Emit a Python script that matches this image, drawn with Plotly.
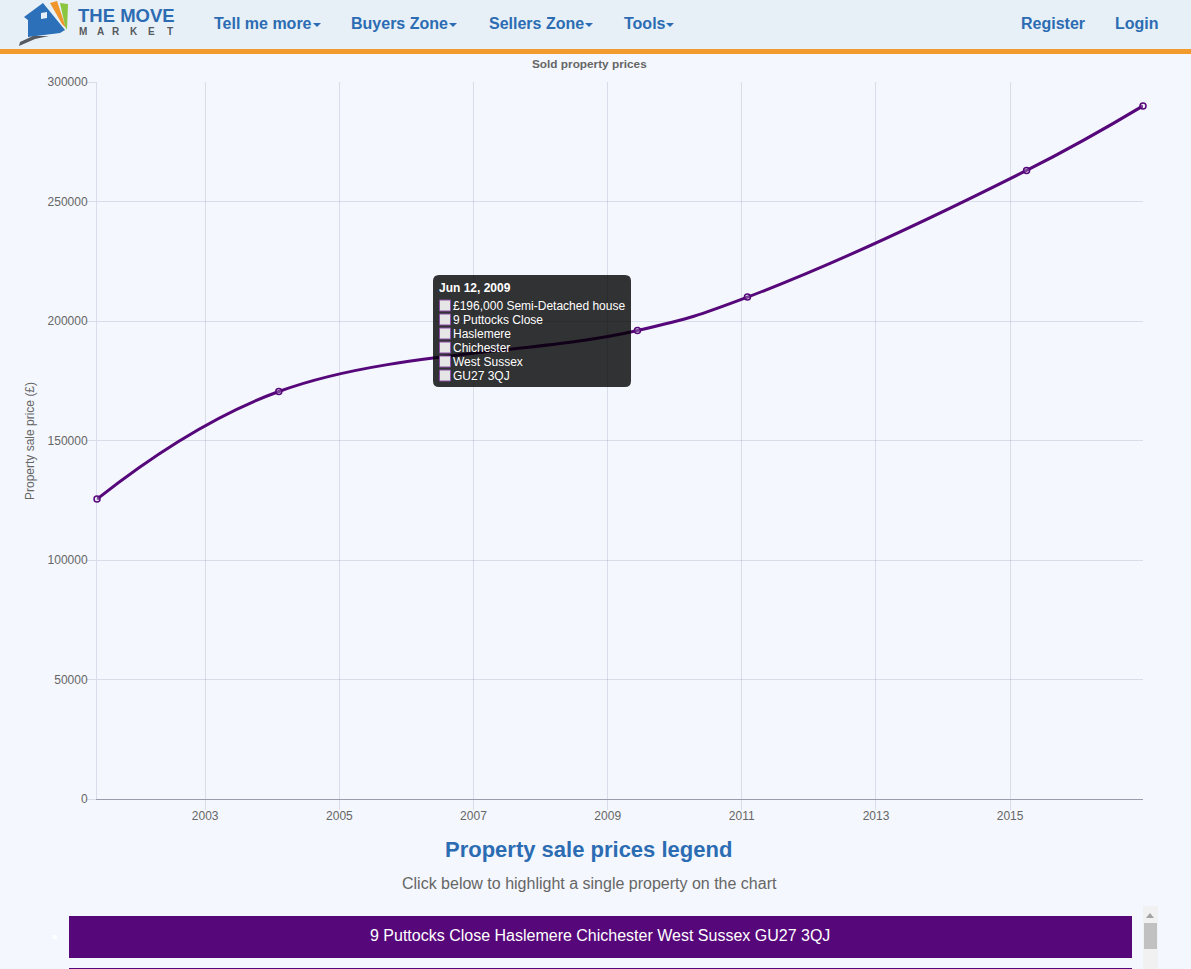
import plotly.graph_objects as go

sale_dates = ["2001-05-22", "2004-02-06", "2009-06-12", "2011-02-01", "2015-04-01", "2016-12-25"]
sale_prices = [125500, 170500, 196000, 210000, 263000, 290000]
chart_title = "Sold property prices"
y_title = "Property sale price (£)"
nav_left = ["Tell me more", "Buyers Zone", "Sellers Zone", "Tools"]
nav_right = ["Register", "Login"]
logo_word = "THE MOVE"
logo_letters = ["M", "A", "R", "K", "E", "T"]
tooltip_title = "Jun 12, 2009"
tooltip_rows = ["£196,000 Semi-Detached house", "9 Puttocks Close", "Haslemere",
                "Chichester", "West Sussex", "GU27 3QJ"]
legend_title = "Property sale prices legend"
legend_sub = "Click below to highlight a single property on the chart"
legend_item = "9 Puttocks Close Haslemere Chichester West Sussex GU27 3QJ"

W, H = 1191, 969
L, R, T, B = 97, 1143, 82, 799
PURPLE = "#56077a"
BLUE = "#2b6cb3"
GREY = "#666666"
BG = "#f4f7fd"
FONT = "Liberation Sans, Arial, sans-serif"


def fx(p):
    return (p - L) / (R - L)


def fy(p):
    return (B - p) / (B - T)


shapes = []
annotations = []


def rect(x0, y0, x1, y1, fill, line=None, width=0, layer="above"):
    shapes.append(dict(type="rect", xref="paper", yref="paper", x0=fx(x0), x1=fx(x1),
                       y0=fy(y1), y1=fy(y0), fillcolor=fill, layer=layer,
                       line=dict(color=line or fill, width=width)))


def poly(points, fill, layer="above"):
    d = "M " + " L ".join(f"{fx(a):.5f} {fy(b):.5f}" for a, b in points) + " Z"
    shapes.append(dict(type="path", xref="paper", yref="paper", path=d, fillcolor=fill,
                       layer=layer, line=dict(width=0)))


def text(x, y, s, size, color, bold=False, anchor="left", angle=0):
    # annotations carry about 2px of inner padding on the anchored side
    xp = x - 2 if anchor == "left" else x
    annotations.append(dict(xref="paper", yref="paper", x=fx(xp), y=fy(y), text=f"<b>{s}</b>" if bold else s,
                            showarrow=False, xanchor=anchor, yanchor="middle", textangle=angle,
                            font=dict(family=FONT, size=size, color=color)))


# header
rect(0, 0, W, 49, "#e8f0f7")
rect(0, 49, W, 54, "#f39a2d")

# logo
poly([(50, 3), (57, 1), (66, 28), (62, 24)], "#f0952c")
poly([(60, 3), (68, 4), (67, 30), (65, 26)], "#8cc63f")
poly([(24, 17), (43, 3), (65, 30), (60, 33), (28, 37), (28, 20)], "#2b70b8")
poly([(41, 13), (47, 12), (47, 18), (41, 19)], "#e8f0f7")
poly([(19, 46), (20, 42), (33, 36), (49, 36), (35, 39)], "#555a60")
text(77.5, 15, logo_word, 18.5, BLUE, bold=True)
for letter, x in zip(logo_letters, [83.3, 100, 116, 134, 151.7, 170]):
    text(x, 31, letter, 10, "#555a60", bold=True, anchor="center")

# navigation
for label, x, caret in zip(nav_left, [214, 351, 489, 624], [317, 453, 589, 670]):
    text(x, 23.5, label, 16, BLUE, bold=True)
    poly([(caret - 4, 23), (caret + 4, 23), (caret, 27)], BLUE)
for label, x in zip(nav_right, [1021, 1115]):
    text(x, 23.5, label, 16, BLUE, bold=True)

# chart text
text(589.5, 64.5, chart_title, 11.8, GREY, bold=True, anchor="center")
text(30, 441, y_title, 12, GREY, anchor="center", angle=-90)

# tooltip
x0, y0, x1, y1, r = 433, 275, 631, 387, 6
d = (f"M {fx(x0 + r)} {fy(y0)} L {fx(x1 - r)} {fy(y0)} Q {fx(x1)} {fy(y0)} {fx(x1)} {fy(y0 + r)} "
     f"L {fx(x1)} {fy(y1 - r)} Q {fx(x1)} {fy(y1)} {fx(x1 - r)} {fy(y1)} "
     f"L {fx(x0 + r)} {fy(y1)} Q {fx(x0)} {fy(y1)} {fx(x0)} {fy(y1 - r)} "
     f"L {fx(x0)} {fy(y0 + r)} Q {fx(x0)} {fy(y0)} {fx(x0 + r)} {fy(y0)} Z")
shapes.append(dict(type="path", xref="paper", yref="paper", path=d, fillcolor="rgba(0,0,0,0.8)",
                   line=dict(width=0), layer="above"))
text(439, 288, tooltip_title, 12, "#ffffff", bold=True)
for i, row in enumerate(tooltip_rows):
    yy = 305.5 + 14 * i
    rect(439.5, yy - 5.5, 450.5, yy + 5.5, "#e6e6e6", line="#8a4fa6", width=1)
    text(453, yy, row, 12, "#ffffff")

# legend block
text(588.5, 850, legend_title, 22, BLUE, bold=True, anchor="center")
text(589, 883, legend_sub, 16, GREY, anchor="center")
rect(69, 916, 1132, 958, PURPLE)
rect(69, 968, 1132, 969, PURPLE)
text(600, 936, legend_item, 16, "#ffffff", anchor="center")
rect(53, 935, 57, 939, "#ffffff")

# scrollbar
rect(1143, 906, 1158, 969, "#f1f1f1")
rect(1144, 923, 1157, 949, "#c1c1c1")
poly([(1146, 918), (1154, 918), (1150, 913)], "#a3a3a3")

fig = go.Figure(go.Scatter(
    x=sale_dates, y=sale_prices, mode="lines+markers", cliponaxis=False,
    line=dict(color=PURPLE, width=3, shape="spline", smoothing=1.15),
    marker=dict(size=6, color="rgba(230,230,240,0.25)", line=dict(color=PURPLE, width=1.5)),
    hoverinfo="skip",
))
GRID = "rgba(70,70,120,0.15)"
fig.update_layout(
    width=W, height=H, margin=dict(l=L, r=W - R, t=T, b=H - B, pad=0),
    paper_bgcolor=BG, plot_bgcolor=BG, showlegend=False,
    font=dict(family=FONT, size=12, color=GREY),
    shapes=shapes, annotations=annotations,
    xaxis=dict(type="date", range=[sale_dates[0], sale_dates[-1]], tick0="2003-01-01", dtick="M24",
               tickformat="%Y", showgrid=True, gridcolor=GRID, gridwidth=1, ticks="outside", ticklen=10,
               ticklabelstandoff=-4, tickcolor=GRID, showline=True, linecolor="#9b9bab", linewidth=1,
               zeroline=False),
    yaxis=dict(range=[0, 300000], dtick=50000, tickformat="d", showgrid=True, gridcolor=GRID, gridwidth=1,
               ticks="outside", ticklen=10, ticklabelstandoff=-4, tickcolor=GRID, showline=True,
               linecolor=GRID, linewidth=1, zeroline=False),
)
fig.write_html("out.html", config=dict(displayModeBar=False),
               post_script="document.body.style.margin='0';document.body.style.overflow='hidden';")
